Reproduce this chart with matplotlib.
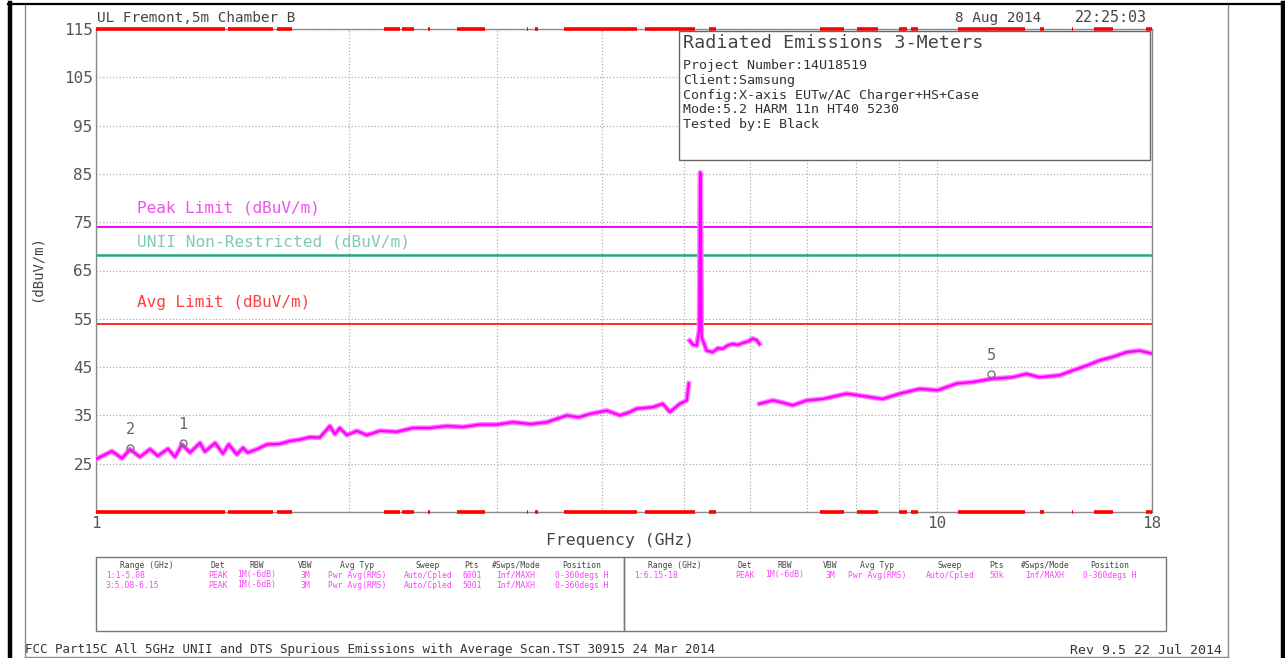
import matplotlib
matplotlib.use('Agg')
import matplotlib.pyplot as plt
from matplotlib.lines import Line2D
from matplotlib.patches import Rectangle

W, H = 1285, 658

# --- измеренный спектр, три поддиапазона (ГГц, дБмкВ/м) ---
f1 = [1.0, 1.046, 1.075, 1.099, 1.129, 1.161, 1.186, 1.219, 1.243, 1.267,
      1.295, 1.331, 1.349, 1.387, 1.417, 1.440, 1.472, 1.497, 1.517, 1.555,
      1.599, 1.656, 1.702, 1.750, 1.798, 1.847, 1.899, 1.925, 1.951, 1.989,
      2.044, 2.101, 2.177, 2.281, 2.383, 2.496, 2.616, 2.733, 2.862, 2.998,
      3.131, 3.29, 3.438, 3.631, 3.75, 3.867, 4.051, 4.198, 4.30, 4.397,
      4.594, 4.721, 4.813, 4.946, 5.041, 5.069]
a1 = [25.9, 27.6, 26.1, 28.0, 26.4, 28.0, 26.6, 28.1, 26.4, 29.0,
      27.3, 29.3, 27.5, 29.3, 27.1, 29.0, 26.9, 28.3, 27.3, 28.0,
      29.0, 29.1, 29.7, 30.0, 30.5, 30.4, 32.8, 31.1, 32.4, 30.9,
      31.8, 30.9, 31.8, 31.6, 32.4, 32.4, 32.8, 32.6, 33.1, 33.1,
      33.6, 33.2, 33.6, 35.0, 34.6, 35.3, 36.0, 35.0, 35.6, 36.4,
      36.7, 37.4, 35.7, 37.4, 38.1, 41.6]

f2 = [5.08, 5.13, 5.18, 5.215, 5.228, 5.236, 5.25, 5.324, 5.412, 5.49,
      5.562, 5.64, 5.716, 5.80, 5.875, 5.96, 6.038, 6.10, 6.15]
a2 = [50.5, 49.6, 49.5, 52.6, 85.3, 85.0, 51.2, 48.4, 48.1, 48.9,
      48.8, 49.5, 49.8, 49.6, 50.0, 50.3, 50.9, 50.6, 49.8]

f3 = [6.15, 6.376, 6.50, 6.736, 6.998, 7.311, 7.806, 8.246, 8.616, 9.025,
      9.532, 10.01, 10.55, 11.02, 11.64, 12.29, 12.77, 13.23, 13.98, 14.49,
      15.05, 15.60, 16.16, 16.80, 17.40, 18.0]
a3 = [37.4, 38.1, 37.8, 37.1, 38.1, 38.4, 39.5, 38.9, 38.4, 39.5,
      40.5, 40.2, 41.6, 41.9, 42.6, 42.9, 43.6, 42.9, 43.3, 44.3,
      45.3, 46.4, 47.1, 48.1, 48.4, 47.8]

# маркеры
mk_f = [1.27, 1.10, 11.6]
mk_a = [29.3, 28.3, 43.6]
mk_lbl = ['1', '2', '5']

# пределы
peak_lim = 74.0
unii_lim = 68.2
avg_lim = 54.0

# запрещённые полосы (красные отметки на рамке)
rb_lo = [1.0, 1.4355, 1.645, 2.2, 2.31, 2.4835, 2.69, 3.26, 3.332, 3.6,
         4.5, 5.35, 7.25, 8.025, 9.0, 9.3, 10.6, 13.25, 14.47, 15.35, 17.7]
rb_hi = [1.427, 1.6265, 1.71, 2.3, 2.39, 2.5, 2.9, 3.267, 3.358, 4.4,
         5.15, 5.46, 7.75, 8.5, 9.2, 9.5, 12.7, 13.4, 14.5, 16.2, 18.0]

y_ticks = [25, 35, 45, 55, 65, 75, 85, 95, 105, 115]
x_ticks = [1, 10, 18]
x_grid = [2, 3, 4, 5, 6, 7, 8, 9]

tbl_head = ['Range (GHz)', 'Det', 'RBW', 'VBW', 'Avg Typ', 'Sweep', 'Pts',
            '#Swps/Mode', 'Position']
tbl_rows_l = [['1:1-5.08', 'PEAK', '1M(-6dB)', '3M', 'Pwr Avg(RMS)',
               'Auto/Cpled', '6001', 'Inf/MAXH', '0-360degs H'],
              ['3:5.08-6.15', 'PEAK', '1M(-6dB)', '3M', 'Pwr Avg(RMS)',
               'Auto/Cpled', '5001', 'Inf/MAXH', '0-360degs H']]
tbl_rows_r = [['1:6.15-18', 'PEAK', '1M(-6dB)', '3M', 'Pwr Avg(RMS)',
               'Auto/Cpled', '50k', 'Inf/MAXH', '0-360degs H']]

info_lines = ['Project Number:14U18519', 'Client:Samsung',
              'Config:X-axis EUTw/AC Charger+HS+Case',
              'Mode:5.2 HARM 11n HT40 5230', 'Tested by:E Black']

MONO = 'DejaVu Sans Mono'
plt.rcParams['font.family'] = MONO


def px(x, y):
    return x / W, 1 - y / H


fig = plt.figure(figsize=(W / 100, H / 100), dpi=100)
fig.patch.set_facecolor('white')

x0, x1, y0, y1 = 95.5, 1152, 29, 512
ax = fig.add_axes([x0 / W, 1 - y1 / H, (x1 - x0) / W, (y1 - y0) / H])
ax.set_xscale('log')
ax.set_xlim(1, 18)
ax.set_ylim(15, 115)

ax.set_yticks(y_ticks)
ax.set_yticklabels([str(v) for v in y_ticks])
ax.set_xticks(x_ticks)
ax.set_xticklabels([str(v) for v in x_ticks])
ax.set_xticks(x_grid, minor=True)
ax.xaxis.set_minor_formatter(plt.NullFormatter())
ax.tick_params(which='both', length=0, labelsize=11.5, labelcolor='#555555')
ax.tick_params(axis='y', pad=2)
ax.tick_params(axis='x', pad=3)
ax.grid(True, which='major', color='#b0b0b0', linestyle=':', linewidth=0.9)
ax.grid(True, which='minor', axis='x', color='#b0b0b0', linestyle=':', linewidth=0.9)
for s in ax.spines.values():
    s.set_color('#8a8a8a')
    s.set_linewidth(1.0)

# пределы
ax.axhline(peak_lim, color='#ff00ff', lw=1.4)
ax.axhline(unii_lim, color='#22a884', lw=1.8)
ax.axhline(avg_lim, color='#ff2a2a', lw=1.4)

# спектр
for f, a in [(f1, a1), (f2, a2), (f3, a3)]:
    ax.plot(f, a, color='#ff77ff', lw=3.6, solid_joinstyle='round', zorder=3)
    ax.plot(f, a, color='#ff00ff', lw=1.6, solid_joinstyle='round', zorder=4)

# маркеры
ax.plot(mk_f, mk_a, 'o', mfc='none', mec='#777777', ms=5, mew=1, zorder=5)
for f, a, t in zip(mk_f, mk_a, mk_lbl):
    ax.annotate(t, (f, a), xytext=(0, 8), textcoords='offset points',
                ha='center', va='bottom', fontsize=11, color='#666666', zorder=6)

# запрещённые полосы сверху и снизу
for lo, hi in zip(rb_lo, rb_hi):
    for yy in (115, 15):
        ax.plot([lo, hi], [yy, yy], color='#ff0000', lw=2.6,
                solid_capstyle='butt', clip_on=False, zorder=6)

# подписи пределов
fig.text(*px(137, 208), 'Peak Limit (dBuV/m)', fontsize=11.5, color='#f050f0', va='center')
fig.text(*px(137, 242), 'UNII Non-Restricted (dBuV/m)', fontsize=11.6, color='#80c8b8', va='center')
fig.text(*px(137, 303), 'Avg Limit (dBuV/m)', fontsize=11.5, color='#ff4040', va='center')

fig.text(*px(37, 268), '(dBuV/m)', rotation=90, fontsize=10, color='#444444',
         ha='center', va='center')
fig.text(*px(620, 541), 'Frequency (GHz)', fontsize=11.8, color='#444444',
         ha='center', va='center')

# заголовок
fig.text(*px(97, 18), 'UL Fremont,5m Chamber B', fontsize=10.4, color='#444444', va='center')
fig.text(*px(955, 18), '8 Aug 2014', fontsize=10.4, color='#444444', va='center')
fig.text(*px(1075, 18), '22:25:03', fontsize=10.8, color='#444444', va='center')

# информационный блок
bx0, by0, bx1, by1 = 679, 31, 1150, 160
fig.add_artist(Rectangle(px(bx0, by1), (bx1 - bx0) / W, (by1 - by0) / H,
                         facecolor='white', edgecolor='#666666', lw=1.0,
                         transform=fig.transFigure, zorder=5))
fig.text(*px(683, 43), 'Radiated Emissions 3-Meters', fontsize=13.2,
         color='#444444', va='center', zorder=6)
for i, line in enumerate(info_lines):
    fig.text(*px(683, 66 + i * 14.6), line, fontsize=9.6, color='#333333',
             va='center', zorder=6)

# таблицы настроек
col_l = [147, 218, 257, 305, 357, 428, 472, 516, 582]
col_r = [675, 745, 785, 830, 877, 950, 997, 1045, 1110]
for (tx0, tx1), cols, rows in [((96, 624), col_l, tbl_rows_l),
                               ((624, 1166), col_r, tbl_rows_r)]:
    fig.add_artist(Rectangle(px(tx0, 631), (tx1 - tx0) / W, (631 - 557) / H,
                             facecolor='none', edgecolor='#777777', lw=1.0,
                             transform=fig.transFigure))
    for c, h in zip(cols, tbl_head):
        fig.text(*px(c, 565), h, fontsize=5.8, color='#444444', ha='center', va='center')
    for r, row in enumerate(rows):
        for k, (c, v) in enumerate(zip(cols, row)):
            if k == 0:
                fig.text(*px(tx0 + 10, 575 + r * 10), v, fontsize=5.8,
                         color='#ff40ff', ha='left', va='center')
            else:
                fig.text(*px(c, 575 + r * 10), v, fontsize=5.8,
                         color='#ff40ff', ha='center', va='center')

# нижние подписи
fig.text(*px(25, 650), 'FCC Part15C All 5GHz UNII and DTS Spurious Emissions '
         'with Average Scan.TST 30915 24 Mar 2014', fontsize=9.0,
         color='#333333', va='center')
fig.text(*px(1222, 650), 'Rev 9.5 22 Jul 2014', fontsize=9.5,
         color='#333333', va='center', ha='right')

# рамка документа
def fline(xs, ys, color, lw):
    fig.add_artist(Line2D([x / W for x in xs], [1 - y / H for y in ys],
                          color=color, lw=lw, transform=fig.transFigure))

fline([8, 1285], [4, 4], 'black', 1.6)
fline([10, 10], [3, 658], 'black', 3.2)
fline([1283, 1283], [3, 658], 'black', 3.2)
fline([25, 25], [5, 657], '#8a8a8a', 1.0)
fline([1228, 1228], [5, 657], '#8a8a8a', 1.0)
fline([25, 1228], [657, 657], '#8a8a8a', 1.0)

fig.savefig('out.png', dpi=100, facecolor='white')
